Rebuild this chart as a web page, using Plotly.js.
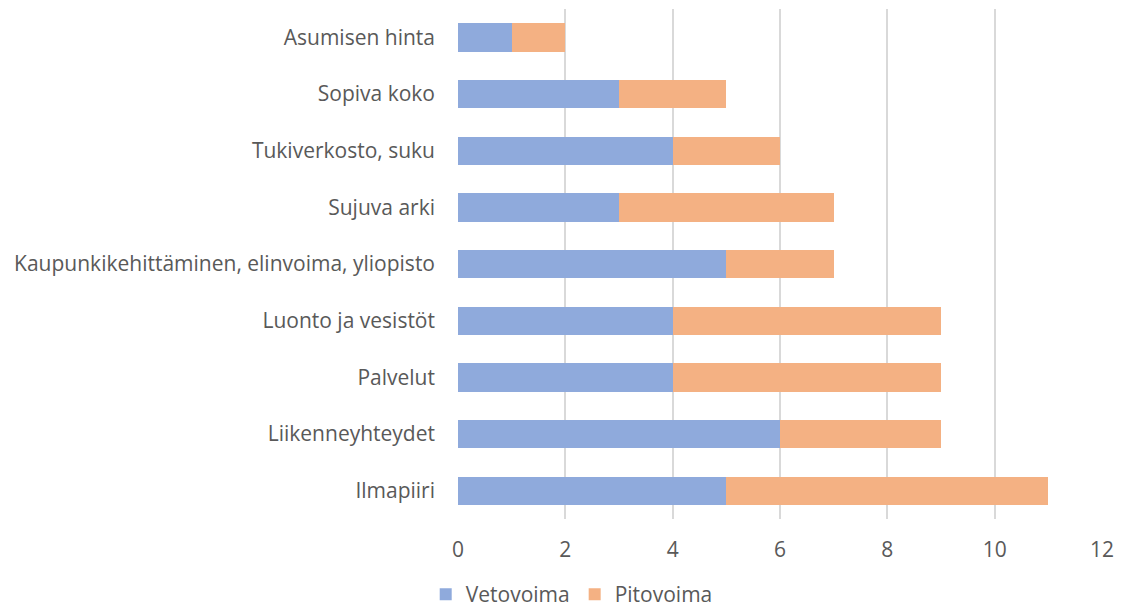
<!DOCTYPE html>
<html>
<head>
<meta charset="utf-8">
<script src="https://cdn.plot.ly/plotly-3.0.1.min.js"></script>
<style>html,body{margin:0;padding:0;background:#fff;}#chart{width:1121px;height:615px;}</style>
</head>
<body>
<div id="chart"></div>
<script>
const categories = ["Ilmapiiri","Liikenneyhteydet","Palvelut","Luonto ja vesistöt","Kaupunkikehittäminen, elinvoima, yliopisto","Sujuva arki","Tukiverkosto, suku","Sopiva koko","Asumisen hinta"];
const vetovoima = [5,6,4,4,5,3,4,3,1];
const pitovoima = [6,3,5,5,2,4,2,2,1];
const xTicks = [0,2,4,6,8,10,12];

const font = {family: "'Open Sans', sans-serif", size: 21, color: "#595959"};
const data = [
  {type:"bar", orientation:"h", name:"Vetovoima", y:categories, x:vetovoima, marker:{color:"#8faadc"}},
  {type:"bar", orientation:"h", name:"Pitovoima", y:categories, x:pitovoima, marker:{color:"#f4b183"}}
];
const layout = {
  width:1121, height:615,
  margin:{l:458, r:19, t:9, b:96},
  barmode:"stack", bargap:0.5,
  font:font,
  paper_bgcolor:"#fff", plot_bgcolor:"#fff",
  xaxis:{range:[0,12], tickvals:xTicks, ticktext:xTicks.map(String), showgrid:true, gridcolor:"#d9d9d9", gridwidth:2, zeroline:false, showline:false, ticks:"", ticklabelstandoff:16, fixedrange:true},
  yaxis:{type:"category", showgrid:false, zeroline:false, showline:false, ticks:"", ticklabelstandoff:22, automargin:false},
  showlegend:true,
  legend:{orientation:"h", xref:"container", yref:"container", x:0.51, xanchor:"center", y:-0.02, yanchor:"bottom", font:font, traceorder:"normal", itemwidth:30}
};
Plotly.newPlot("chart", data, layout, {displayModeBar:false, staticPlot:true});
</script>
</body>
</html>
